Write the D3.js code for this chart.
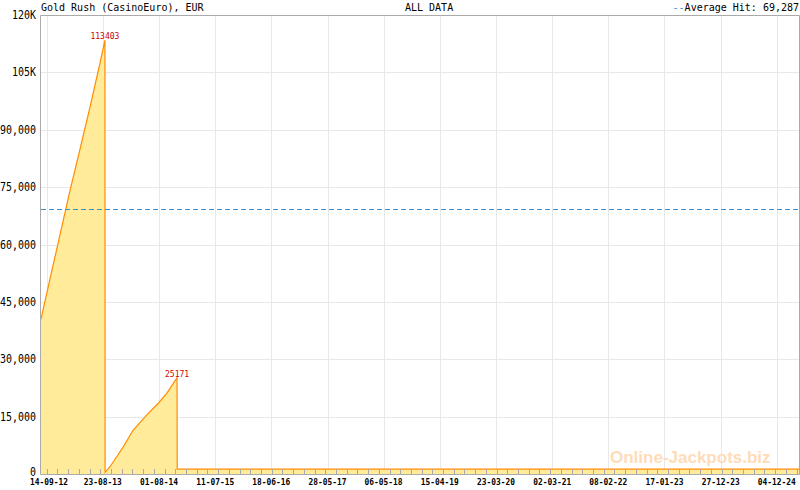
<!DOCTYPE html>
<html>
<head>
<meta charset="utf-8">
<script src="https://cdn.jsdelivr.net/npm/d3@7/dist/d3.min.js"></script>
<style>
  body { margin: 0; background: #fff; }
  svg { display: block; }
  text { font-family: 'DejaVu Sans Mono', monospace; }
</style>
</head>
<body>
<div id="chart"></div>
<script>
// jackpot level over time
const dates = [
  '2012-08-10', '2012-10-04', '2012-12-04', '2013-02-03', '2013-04-06', '2013-06-06', '2013-08-06', '2013-09-05',
  '2013-09-06', '2013-10-06', '2013-11-16', '2013-12-26', '2014-02-25', '2014-05-18', '2014-07-28', '2014-09-18', '2014-11-20',
  '2014-11-21', '2025-04-19'
];
const values = [
  40500, 51000, 62500, 74000, 85000, 96000, 107500, 113403,
  450, 1900, 4500, 7100, 11500, 15400, 18500, 21100, 25171,
  1250, 1250
];
const peakLabels = [
  { date: '2013-09-05', value: 113403 },
  { date: '2014-11-20', value: 25171 }
];
const averageHit = 69287;

const xTickLabels = ['14-09-12', '23-08-13', '01-08-14', '11-07-15', '18-06-16', '28-05-17', '06-05-18',
  '15-04-19', '23-03-20', '02-03-21', '08-02-22', '17-01-23', '27-12-23', '04-12-24'];
const yTickValues = [0, 15000, 30000, 45000, 60000, 75000, 90000, 105000, 120000];
const yTickLabels = ['0', '15,000', '30,000', '45,000', '60,000', '75,000', '90,000', '105K', '120K'];

const title = 'Gold Rush (CasinoEuro), EUR';
const subtitle = 'ALL DATA';

const width = 800, height = 490;
const plotLeft = 41, plotRight = 799, plotTop = 15, plotBottom = 474;
const minorStepDays = 65.5;

const parse = d3.timeParse('%Y-%m-%d');
const parseTick = d3.timeParse('%d-%m-%y');
const data = dates.map((d, i) => ({ date: parse(d), value: values[i] }));

const x = d3.scaleTime()
  .domain(d3.extent(data, d => d.date))
  .range([plotLeft, plotRight]);
const y = d3.scaleLinear().domain([0, 120000]).range([plotBottom, plotTop]);

const svg = d3.select('#chart').append('svg').attr('width', width).attr('height', height);

// grid
const tickDates = xTickLabels.map(s => parseTick(s));
svg.append('g')
  .selectAll('line')
  .data(yTickValues)
  .enter()
  .append('line')
  .attr('x1', plotLeft).attr('x2', plotRight)
  .attr('y1', d => Math.round(y(d)) + 0.5).attr('y2', d => Math.round(y(d)) + 0.5)
  .style('stroke', '#e8e8e8');
svg.append('g')
  .selectAll('line')
  .data(tickDates)
  .enter()
  .append('line')
  .attr('x1', d => Math.round(x(d)) + 0.5).attr('x2', d => Math.round(x(d)) + 0.5)
  .attr('y1', plotTop).attr('y2', plotBottom)
  .style('stroke', '#e8e8e8');

// area + line
const area = d3.area()
  .x(d => x(d.date))
  .y0(y(0))
  .y1(d => y(d.value));
const line = d3.line()
  .x(d => x(d.date))
  .y(d => y(d.value));

svg.append('path').datum(data).attr('d', area).style('fill', '#ffeb99');
svg.append('path').datum(data).attr('d', line)
  .style('fill', 'none').style('stroke', '#ff8c00').style('stroke-width', 1.2);

// average hit
svg.append('line')
  .attr('x1', plotLeft).attr('x2', plotRight)
  .attr('y1', Math.round(y(averageHit)) + 0.5).attr('y2', Math.round(y(averageHit)) + 0.5)
  .style('stroke', '#3a8fc8')
  .style('stroke-dasharray', '5,3');

// minor ticks along the bottom
const minorTicks = [];
for (let t = +tickDates[0]; t <= +x.domain()[1]; t += minorStepDays * 864e5) minorTicks.push(new Date(t));
svg.append('g')
  .selectAll('line')
  .data(minorTicks)
  .enter()
  .append('line')
  .attr('x1', d => Math.round(x(d)) + 0.5).attr('x2', d => Math.round(x(d)) + 0.5)
  .attr('y1', plotBottom - 5).attr('y2', plotBottom)
  .style('stroke', '#aaaaaa');

// frame
svg.append('path')
  .attr('d', `M${plotLeft - 0.5},${plotBottom + 0.5}V${plotTop + 0.5}H${plotRight + 0.5}V${plotBottom + 0.5}Z`)
  .style('fill', 'none')
  .style('stroke', '#aaaaaa');

// y labels
svg.append('g')
  .selectAll('text')
  .data(yTickValues)
  .enter()
  .append('text')
  .attr('x', 36)
  .attr('y', d => y(d) + (d === 0 ? 2 : 4))
  .attr('text-anchor', 'end')
  .attr('textLength', (d, i) => yTickLabels[i].length * 6)
  .attr('lengthAdjust', 'spacingAndGlyphs')
  .style('font-size', '12px')
  .style('fill', '#000')
  .text((d, i) => yTickLabels[i]);

// x labels (first one nudged so it stays on the canvas, like the original)
svg.append('g')
  .selectAll('text')
  .data(tickDates)
  .enter()
  .append('text')
  .attr('x', d => Math.max(x(d), 49))
  .attr('y', 485)
  .attr('text-anchor', 'middle')
  .attr('textLength', 38)
  .attr('lengthAdjust', 'spacingAndGlyphs')
  .style('font-size', '9px')
  .style('font-weight', 'bold')
  .style('fill', '#000')
  .text((d, i) => xTickLabels[i]);

// peak labels
svg.append('g')
  .selectAll('text')
  .data(peakLabels)
  .enter()
  .append('text')
  .attr('x', d => x(parse(d.date)))
  .attr('y', d => y(d.value) - 1)
  .attr('text-anchor', 'middle')
  .style('font-size', '8px')
  .style('fill', '#cc0000')
  .text(d => d.value);

// header
svg.append('text').attr('x', 41).attr('y', 11).style('font-size', '10px').text(title);
svg.append('text').attr('x', 405).attr('y', 11).style('font-size', '10px').text(subtitle);
const legend = svg.append('text').attr('x', 799).attr('y', 11).attr('text-anchor', 'end').style('font-size', '10px');
legend.append('tspan').style('fill', '#3a8fc8').text('--');
legend.append('tspan').text('Average Hit: ' + d3.format(',')(averageHit));

// watermark
svg.append('text')
  .attr('x', 610).attr('y', 463)
  .style('font-family', "'Liberation Sans', Arial, sans-serif")
  .style('font-weight', 'bold')
  .style('font-size', '17px')
  .style('fill', '#ffdcb8')
  .text('Online-Jackpots.biz');
</script>
</body>
</html>
